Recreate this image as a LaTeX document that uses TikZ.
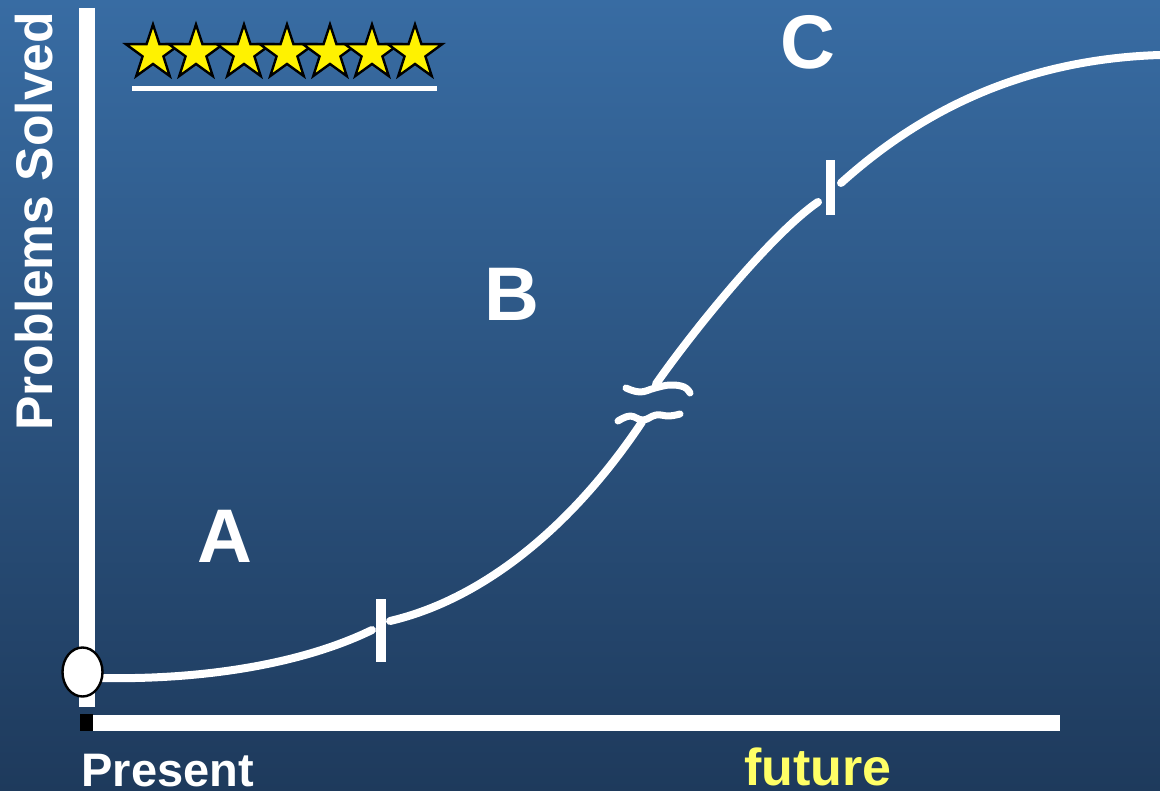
\documentclass[tikz,border=0pt]{standalone}
\usepackage{fontspec}
\setmainfont{Liberation Sans}
\usetikzlibrary{shapes.geometric}
\definecolor{bgtop}{RGB}{56,108,163}
\definecolor{bgbot}{RGB}{30,58,92}
\definecolor{futyellow}{RGB}{255,255,102}
\begin{document}
\begin{tikzpicture}[x=0.5pt,y=-0.5pt,
  curve/.style={white,line width=4pt,line cap=round,line join=round},
  wavy/.style={white,line width=3.5pt,line cap=round,line join=round},
  axis/.style={white,line width=8pt},
  tickmark/.style={fill=white,draw=none,minimum width=5pt,minimum height=31.5pt,inner sep=0pt},
  ministar/.style={star,star points=5,star point ratio=2.6,minimum size=28.5pt,inner sep=0pt,fill=yellow,draw=black,line width=1.2pt},
  biglabel/.style={text=white,anchor=base,font=\bfseries\fontsize{38}{38}\selectfont},
  axlabel/.style={anchor=base west,inner sep=0pt}]
\useasboundingbox (0,0) rectangle (1160,791);
\shade[top color=bgtop,bottom color=bgbot] (0,0) rectangle (1160,791);
% axes
\coordinate (ytop) at (87,8);
\coordinate (ybot) at (87,707);
\coordinate (xleft) at (93,722.5);
\coordinate (xright) at (1060,722.5);
\draw[axis] (ytop) -- (ybot);
\draw[axis] (xleft) -- (xright);
\node[fill=black,minimum width=6.5pt,minimum height=8.5pt,inner sep=0pt] (corner) at (86.5,722.5) {};
% curve segments
\coordinate (c0) at (100,678);
\coordinate (c1) at (372,630);
\coordinate (c2) at (390,621);
\coordinate (c3) at (642,422);
\coordinate (c4) at (656,384);
\coordinate (c5) at (818,202);
\coordinate (c6) at (841,183);
\coordinate (c7) at (1160,55);
\draw[curve] (c0) .. controls (200,680) and (300,665) .. (c1);
\draw[curve] (c2) .. controls (480,600) and (570,530) .. (c3);
\draw[curve] (c4) .. controls (690,335) and (770,235) .. (c5);
\draw[curve] (c6) .. controls (900,130) and (1000,60) .. (c7);
% break marks
\draw[wavy] plot[smooth,tension=0.7] coordinates {(626,388) (640,392) (655,388) (670,385) (684,387) (690,393)};
\draw[wavy] plot[smooth,tension=0.7] coordinates {(618,421) (630,416) (643,420) (656,415) (669,416) (680,414)};
% ticks
\node[tickmark] (tick1) at (381,630) {};
\node[tickmark,minimum height=27.5pt,minimum width=4.5pt] (tick2) at (830,187.5) {};
% origin
\node[ellipse,draw=black,fill=white,line width=1.2pt,minimum width=20pt,minimum height=24.5pt,inner sep=0pt] (origin) at (82.5,672) {};
% stars
\foreach \i/\x in {1/153,2/196,3/244,4/287,5/330,6/372,7/415}
  \node[ministar] (star\i) at (\x,53) {};
\coordinate (ulA) at (132,89);
\coordinate (ulB) at (437,89);
\draw[white,line width=2.5pt] (ulA) -- (ulB);
% labels
\node[biglabel] (labA) at (225,562) {A};
\node[biglabel] (labB) at (512,320) {B};
\node[biglabel] (labC) at (808,69) {C};
\node[axlabel,rotate=90,text=white,font=\bfseries\fontsize{25.8}{25.8}\selectfont] (ylab) at (52,431) {Problems Solved};
\node[axlabel,text=white,font=\bfseries\fontsize{23.5}{23.5}\selectfont] (present) at (81,786) {Present};
\node[axlabel,text=futyellow,font=\bfseries\fontsize{26}{26}\selectfont] (future) at (744,785) {future};
\end{tikzpicture}
\end{document}
